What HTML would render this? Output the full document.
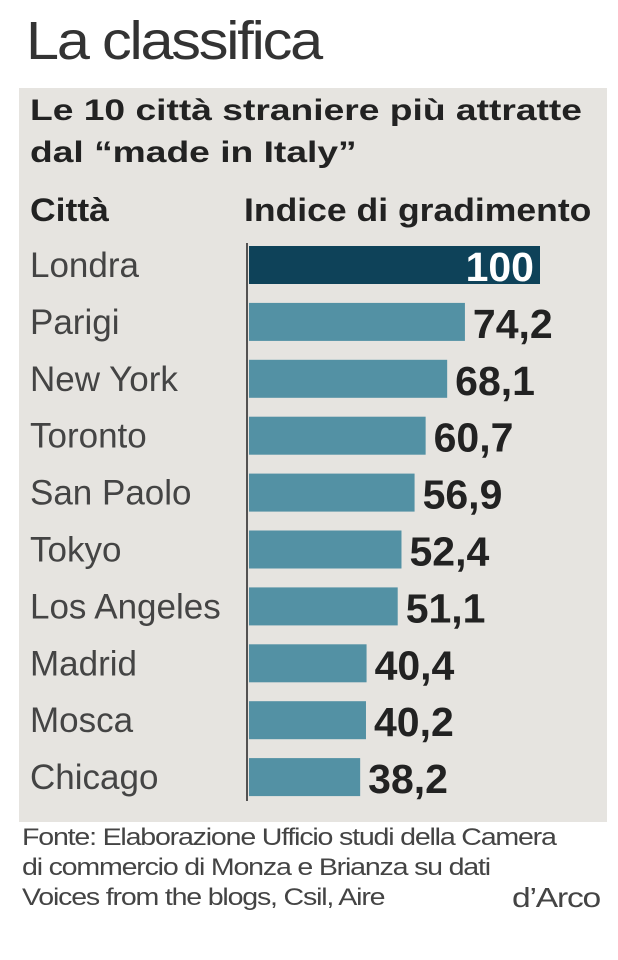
<!DOCTYPE html>
<html><head><meta charset="utf-8"><style>
body{margin:0;width:618px;height:960px;background:#fff;font-family:"Liberation Sans",sans-serif;position:relative;overflow:hidden}
#title{position:absolute;left:26px;top:10px;font-size:54px;color:#333;letter-spacing:-2px;font-weight:normal;transform:scaleX(1.1);transform-origin:left}
#panel{position:absolute;left:19px;top:88px;width:588px;height:734px;background:#e6e4e0}
.sub{position:absolute;left:30px;font-size:30px;font-weight:bold;color:#222;transform:scaleX(1.24);transform-origin:left;white-space:nowrap}
.hdr{position:absolute;font-size:32px;font-weight:bold;color:#222;transform:scaleX(1.11);transform-origin:left;white-space:nowrap}
.foot{position:absolute;left:22px;font-size:24px;color:#444;letter-spacing:-1px;white-space:nowrap;transform:scaleX(1.19);transform-origin:left}
</style></head><body>
<div id="title">La classifica</div>
<div id="panel"></div>
<div class="sub" style="top:94px">Le 10 città straniere più attratte</div>
<div class="sub" style="top:136px">dal “made in Italy”</div>
<div class="hdr" style="top:192px;left:30px">Città</div>
<div class="hdr" style="top:192px;left:244px">Indice di gradimento</div>
<svg id="chart" width="618" height="960" style="position:absolute;left:0;top:0"></svg>
<div class="foot" style="top:824px">Fonte: Elaborazione Ufficio studi della Camera</div>
<div class="foot" style="top:854px">di commercio di Monza e Brianza su dati</div>
<div class="foot" style="top:884px">Voices from the blogs, Csil, Aire</div>
<div class="foot" style="top:882px;left:512px;font-size:28px;transform:scaleX(1.2)">d’Arco</div>
<script>
const cities=["Londra","Parigi","New York","Toronto","San Paolo","Tokyo","Los Angeles","Madrid","Mosca","Chicago"];
const values=[100,74.2,68.1,60.7,56.9,52.4,51.1,40.4,40.2,38.2];
const labels=["100","74,2","68,1","60,7","56,9","52,4","51,1","40,4","40,2","38,2"];
const svg=document.getElementById('chart');
const NS="http://www.w3.org/2000/svg";
const x0=249, pxPerUnit=2.91;
function xs(v){return v*pxPerUnit;}
function yc(i){return 265+i*56.9;}
function mk(tag,attrs){const e=document.createElementNS(NS,tag);for(const k in attrs)e.setAttribute(k,attrs[k]);svg.appendChild(e);return e;}
const ax=mk('line',{x1:247,x2:247,y1:243,y2:801,stroke:'#222','stroke-width':1.5});


cities.forEach((c,i)=>{
  const y=yc(i);
  const t=mk('text',{x:30,y:y+12,'font-size':35,fill:'#444','font-family':'Liberation Sans, sans-serif'});
  t.textContent=c;
  
  
  const w=xs(values[i]);
  const r=mk('rect',{x:x0,y:y-19,width:w,height:38,fill:i===0?'#0e4259':'#5391a4'});
  
  
  const v=mk('text',{x:i===0?x0+w-6:x0+w+8,y:y+16,'font-size':41,'font-weight':'bold',fill:i===0?'#fff':'#222','text-anchor':i===0?'end':'start','font-family':'Liberation Sans, sans-serif'});
  v.textContent=labels[i];
  
  
});
</script>
</body></html>
